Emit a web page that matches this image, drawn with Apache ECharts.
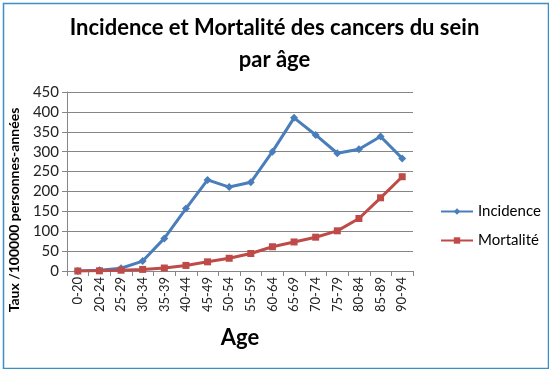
<!DOCTYPE html>
<html><head><meta charset="utf-8">
<script src="https://cdn.jsdelivr.net/npm/echarts@6/dist/echarts.min.js"></script>
<style>html,body{margin:0;padding:0;background:#fff}#c{width:549px;height:369px}</style>
</head><body><div id="c"></div>
<script>
const categories = ['0-20','20-24','25-29','30-34','35-39','40-44','45-49','50-54','55-59','60-64','65-69','70-74','75-79','80-84','85-89','90-94'];
const incidence = [0, 2, 7, 25, 82, 157, 229, 211, 223, 300, 385, 342, 296, 306, 338, 283];
const mortalite = [0, 0.5, 2, 4, 7.5, 14, 23, 32, 44, 61, 73, 85, 101, 132, 184, 237];
const yTicks = [0, 50, 100, 150, 200, 250, 300, 350, 400, 450];

const chart = echarts.init(document.getElementById('c'));
const font = 'Lato, "Open Sans", sans-serif';
chart.setOption({
  animation: false,
  textStyle: {fontFamily: font},
  title: {
    text: 'Incidence et Mortalité des cancers du sein\npar âge',
    left: 'center', top: 7,
    textStyle: {fontFamily: font, fontSize: 22, fontWeight: 'bold', color: '#000', lineHeight: 32}
  },
  graphic: [
    {type: 'rect', left: 1, top: 1, shape: {width: 545, height: 365}, style: {fill: 'none', stroke: '#3a8fc6', lineWidth: 1.5}, silent: true},
    {type: 'text', x: 14, y: 210, rotation: Math.PI / 2,
     style: {text: 'Taux /100000 personnes-années', fontFamily: font, fontSize: 14, fontWeight: 'bold', fill: '#000', align: 'center', verticalAlign: 'middle'}}
  ],
  legend: {
    orient: 'vertical', left: 435, top: 199, itemGap: 14,
    itemWidth: 32, itemHeight: 8, itemStyle: {},
    textStyle: {fontFamily: font, fontSize: 15, color: '#000'},
    data: ['Incidence', 'Mortalité']
  },
  grid: {left: 67, right: 136, top: 92, bottom: 98},
  xAxis: {
    type: 'category', data: categories, boundaryGap: true,
    name: 'Age', nameLocation: 'middle', nameGap: 56,
    nameTextStyle: {fontFamily: font, fontSize: 22, fontWeight: 'bold', color: '#000'},
    axisLine: {lineStyle: {color: '#868686'}},
    axisTick: {show: true, alignWithLabel: false, length: 5, lineStyle: {color: '#868686'}},
    axisLabel: {rotate: 90, fontSize: 13, color: '#222', interval: 0, margin: 6}
  },
  yAxis: {
    type: 'value', min: 0, max: 450, interval: 50,
    axisLine: {show: true, lineStyle: {color: '#868686'}},
    axisTick: {show: true, length: 5, lineStyle: {color: '#868686'}},
    axisLabel: {fontSize: 15, color: '#222', margin: 8,
      formatter: v => yTicks.includes(v) ? String(v) : ''},
    splitLine: {lineStyle: {color: '#868686', width: 1}}
  },
  series: [
    {name: 'Incidence', type: 'line', data: incidence, symbol: 'diamond', symbolSize: 8,
     lineStyle: {color: '#4a7ebb', width: 3}, itemStyle: {color: '#4a7ebb'}},
    {name: 'Mortalité', type: 'line', data: mortalite, symbol: 'rect', symbolSize: 7,
     lineStyle: {color: '#be4b48', width: 3}, itemStyle: {color: '#be4b48'}}
  ]
});
</script></body></html>
